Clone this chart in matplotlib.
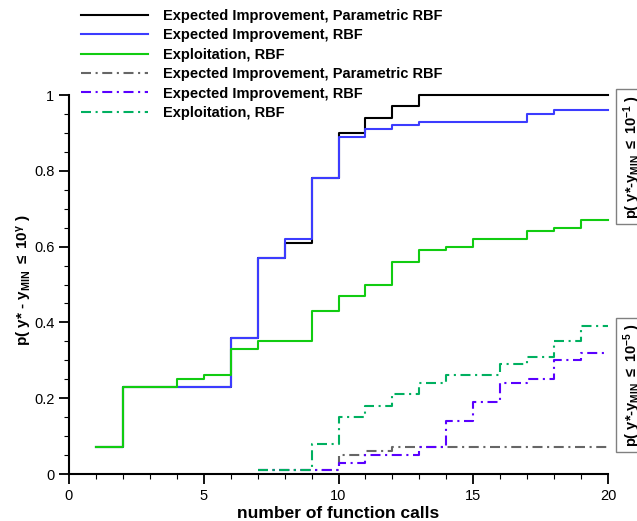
import numpy as np
import matplotlib
matplotlib.use("Agg")
import matplotlib.pyplot as plt
from matplotlib.ticker import MultipleLocator, FuncFormatter

plt.rcParams['font.family'] = ['Liberation Sans', 'DejaVu Sans']
plt.rcParams['mathtext.fontset'] = 'custom'
plt.rcParams['mathtext.rm'] = 'Liberation Sans:bold'
plt.rcParams['mathtext.bf'] = 'Liberation Sans:bold'
plt.rcParams['mathtext.it'] = 'Liberation Sans:bold'
plt.rcParams['mathtext.default'] = 'bf'

calls = np.arange(1, 21)
nan = np.nan

# p(y* - y_min <= 1e-1), solid lines
ei_prbf_1 = [0.07, 0.23, 0.23, 0.23, 0.23, 0.36, 0.57, 0.61, 0.78, 0.90,
             0.94, 0.97, 1.00, 1.00, 1.00, 1.00, 1.00, 1.00, 1.00, 1.00]
ei_rbf_1 = [0.07, 0.23, 0.23, 0.23, 0.23, 0.36, 0.57, 0.62, 0.78, 0.89,
            0.91, 0.92, 0.93, 0.93, 0.93, 0.93, 0.95, 0.96, 0.96, 0.96]
expl_rbf_1 = [0.07, 0.23, 0.23, 0.25, 0.26, 0.33, 0.35, 0.35, 0.43, 0.47,
              0.50, 0.56, 0.59, 0.60, 0.62, 0.62, 0.64, 0.65, 0.67, 0.67]

# p(y* - y_min <= 1e-5), dash-dot lines
ei_prbf_5 = [nan, nan, nan, nan, nan, nan, 0.01, 0.01, 0.01, 0.05,
             0.06, 0.07, 0.07, 0.07, 0.07, 0.07, 0.07, 0.07, 0.07, 0.07]
ei_rbf_5 = [nan, nan, nan, nan, nan, nan, 0.01, 0.01, 0.01, 0.03,
            0.05, 0.05, 0.07, 0.14, 0.19, 0.24, 0.25, 0.30, 0.32, 0.32]
expl_rbf_5 = [nan, nan, nan, nan, nan, nan, 0.01, 0.01, 0.08, 0.15,
              0.18, 0.21, 0.24, 0.26, 0.26, 0.29, 0.31, 0.35, 0.39, 0.39]

labels = ['Expected Improvement, Parametric RBF', 'Expected Improvement, RBF',
          'Exploitation, RBF']

dd = (0, (4.8, 2.2, 1.0, 2.2))

fig = plt.figure(figsize=(6.37, 5.21), dpi=100)
ax = fig.add_axes([0.1083, 0.0902, 0.8462, 0.7274])

ax.plot(calls, ei_prbf_1, drawstyle='steps-post', color='black', lw=1.5, label=labels[0], clip_on=False)
ax.plot(calls, ei_rbf_1, drawstyle='steps-post', color='#3c3cff', lw=1.5, label=labels[1], clip_on=False)
ax.plot(calls, expl_rbf_1, drawstyle='steps-post', color='#11cc11', lw=1.5, label=labels[2], clip_on=False)
ax.plot(calls, ei_prbf_5, drawstyle='steps-post', color='#666666', lw=1.5, ls=dd, label=labels[0], clip_on=False)
ax.plot(calls, ei_rbf_5, drawstyle='steps-post', color='#5a00ff', lw=1.5, ls=dd, label=labels[1], clip_on=False)
ax.plot(calls, expl_rbf_5, drawstyle='steps-post', color='#00b060', lw=1.5, ls=dd, label=labels[2], clip_on=False)

ax.set_xlim(0, 20)
ax.set_ylim(0, 1)
ax.spines['top'].set_visible(False)
ax.spines['right'].set_visible(False)
ax.spines['left'].set_linewidth(1.5)
ax.spines['bottom'].set_linewidth(1.5)
ax.xaxis.set_major_locator(MultipleLocator(5))
ax.xaxis.set_minor_locator(MultipleLocator(1))
ax.yaxis.set_major_locator(MultipleLocator(0.2))
ax.yaxis.set_minor_locator(MultipleLocator(0.05))
ax.yaxis.set_major_formatter(FuncFormatter(lambda v, p: '%g' % round(v, 2)))
ax.tick_params(which='major', length=7, width=1.3, labelsize=10.5, direction='out')
ax.tick_params(which='minor', length=3.5, width=0.8, direction='out')

fig.text(338 / 637, 1 - 513 / 521, 'number of function calls', fontsize=12.5,
         fontweight='bold', ha='center', va='center')
fig.text(25 / 637, 1 - 280 / 521, r'p( y* - y$_{MIN}$ $\leq$ 10$^{\gamma}$ )', fontsize=11,
         fontweight='bold', rotation=90, ha='center', va='center')

box = dict(boxstyle='square,pad=0.35', fc='white', ec='#808080', lw=1)
fig.text(621 / 637, 1 - 156.5 / 521, r'p( y*-y$_{MIN}$ $\leq$ 10$^{-1}$ )', fontsize=10.5,
         fontweight='bold', rotation=90, ha='left', va='center', bbox=box)
fig.text(621 / 637, 1 - 385 / 521, r'p( y*-y$_{MIN}$ $\leq$ 10$^{-5}$ )', fontsize=10.5,
         fontweight='bold', rotation=90, ha='left', va='center', bbox=box)

leg = fig.legend(loc='upper left', bbox_to_anchor=(81 / 637, 1 - 9 / 521), frameon=False,
                 borderpad=0, borderaxespad=0, handlelength=4.6, handletextpad=1.0,
                 labelspacing=0.37, prop={'size': 10.5, 'weight': 'bold'})

fig.savefig('out.png', dpi=100)
